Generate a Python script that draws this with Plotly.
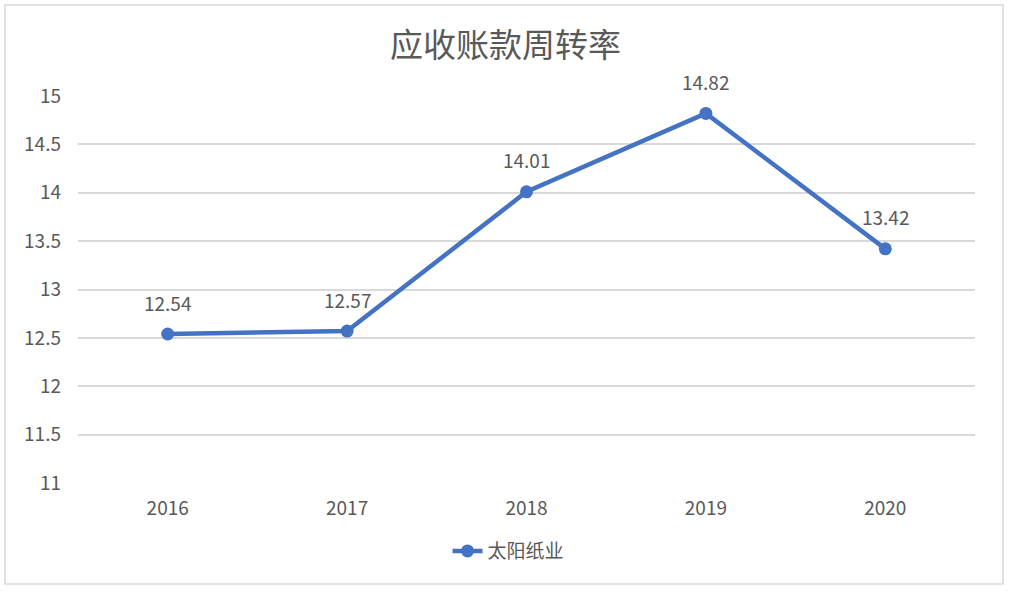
import plotly.graph_objects as go

# data
years = ["2016", "2017", "2018", "2019", "2020"]
turnover = [12.54, 12.57, 14.01, 14.82, 13.42]
series_name = "太阳纸业"
chart_title = "应收账款周转率"

blue = "#4472C4"
grey_text = "#595959"
grid = "#d9d9d9"
font_family = "Noto Sans CJK SC, Noto Sans, sans-serif"

fig = go.Figure()
fig.add_trace(
    go.Scatter(
        x=years,
        y=turnover,
        name=series_name,
        mode="lines+markers",
        line=dict(color=blue, width=4.5),
        marker=dict(color=blue, size=13),
        cliponaxis=False,
    )
)

# value labels sit well above the markers, as in the original
# (category index for x, so "2016" isn't read as a number)
for i, v in enumerate(turnover):
    fig.add_annotation(
        x=i,
        y=v,
        text=f"{v:.2f}",
        showarrow=False,
        yshift=32,
        yanchor="middle",
        font=dict(size=19, color=grey_text),
    )

fig.update_layout(
    width=1011,
    height=594,
    margin=dict(l=78, r=36, t=96, b=111),
    paper_bgcolor="white",
    plot_bgcolor="white",
    font=dict(family=font_family, color=grey_text, size=19),
    title=dict(
        text=chart_title,
        x=0.5,
        xanchor="center",
        y=0.924,
        yanchor="middle",
        font=dict(size=33, color=grey_text),
    ),
    showlegend=True,
    legend=dict(
        orientation="h",
        x=0.48,
        xanchor="center",
        y=-0.176,
        yanchor="middle",
        font=dict(size=19, color=grey_text),
    ),
    xaxis=dict(
        type="category",
        range=[-0.5, 4.5],
        showgrid=False,
        showline=False,
        ticks="",
        tickfont=dict(size=19, color=grey_text),
        ticklabelstandoff=12,
    ),
    yaxis=dict(
        range=[11, 15],
        dtick=0.5,
        showgrid=True,
        gridcolor=grid,
        gridwidth=1.5,
        zeroline=False,
        showline=False,
        ticks="",
        tickfont=dict(size=19, color=grey_text),
        ticklabelstandoff=16,
    ),
    shapes=[
        dict(
            type="rect",
            xref="paper",
            yref="paper",
            x0=-0.0814,
            x1=1.0312,
            y0=-0.261,
            y1=1.235,
            line=dict(color=grid, width=1.5),
            layer="below",
        )
    ],
)

# drop the page's default body margin so the chart frame fits the window
fig.write_html(
    "out.html",
    config={"displayModeBar": False},
    post_script="document.body.style.margin='0';",
)
